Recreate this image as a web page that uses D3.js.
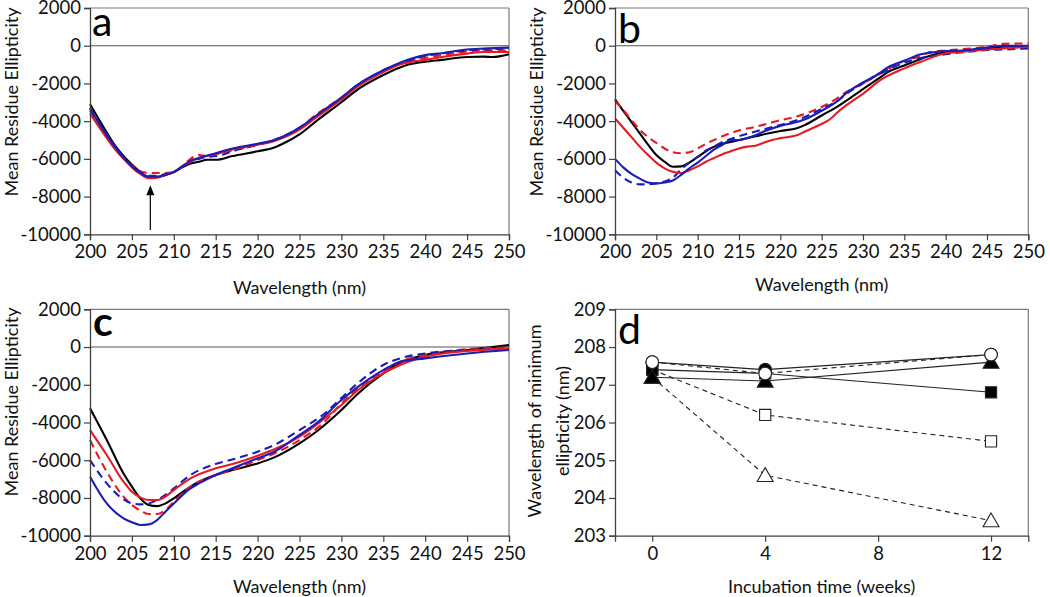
<!DOCTYPE html>
<html><head><meta charset="utf-8">
<script src="https://cdn.jsdelivr.net/npm/d3@7"></script>
<style>
html,body{margin:0;padding:0;background:#fff;}
svg{display:block;font-family:Lato,"Open Sans",sans-serif;}
</style></head>
<body>
<svg id="chart" width="1050" height="597"></svg>
<script>
// ---------- DATA ----------
const cdXTicks = [200,205,210,215,220,225,230,235,240,245,250];
const cdYTicks = [2000,0,-2000,-4000,-6000,-8000,-10000];
const dXTicks = [0,4,8,12];
const dYTicks = [203,204,205,206,207,208,209];

// panel a
const aBlack = [[200,-3100],[202,-4600],[203,-5300],[204,-5850],[205,-6300],[206,-6700],[207,-6950],[208,-6950],[209,-6850],[210,-6700],[211,-6450],[212,-6250],[213,-6150],[214,-6050],[215,-6050],[217,-5850],[220,-5600],[222,-5400],[223,-5200],[225,-4700],[227,-4000],[230,-3000],[232,-2300],[235,-1550],[237,-1150],[238,-1000],[240,-850],[242,-750],[245,-600],[247,-580],[248,-600],[250,-450]];
const aRed = [[200,-3600],[202,-4900],[203,-5500],[204,-6000],[205,-6450],[206,-6800],[207,-7030],[208,-7000],[209,-6850],[210,-6700],[211,-6400],[212,-6150],[213,-5950],[215,-5750],[217,-5500],[220,-5250],[222,-5050],[225,-4450],[227,-3800],[230,-2850],[232,-2150],[235,-1400],[237,-1000],[240,-750],[242,-600],[245,-420],[247,-330],[250,-330]];
const aRedDash = [[200,-3450],[202,-4800],[204,-5950],[205,-6350],[206,-6650],[207,-6750],[208,-6750],[209,-6750],[210,-6700],[211,-6400],[212,-6000],[213,-5800],[214,-5850],[215,-5750],[217,-5550],[220,-5250],[222,-5000],[225,-4350],[227,-3650],[230,-2750],[232,-2050],[235,-1350],[237,-950],[240,-650],[242,-500],[245,-300],[247,-250],[250,-250]];
const aBlue = [[200,-3350],[202,-4750],[204,-5950],[205,-6400],[206,-6750],[207,-6950],[208,-6950],[209,-6850],[210,-6700],[211,-6400],[212,-6100],[213,-5950],[215,-5700],[217,-5450],[220,-5200],[222,-5000],[225,-4350],[227,-3700],[230,-2750],[232,-2050],[235,-1300],[237,-900],[240,-500],[242,-400],[245,-200],[247,-150],[250,-100]];
const aBlueDash = [[200,-3300],[202,-4700],[204,-5900],[205,-6350],[206,-6700],[207,-6900],[208,-6900],[209,-6800],[210,-6700],[211,-6450],[212,-6150],[213,-6000],[214,-5900],[215,-5850],[216,-5750],[217,-5600],[220,-5250],[222,-5000],[225,-4350],[227,-3750],[230,-2800],[232,-2100],[235,-1300],[237,-950],[240,-550],[242,-400],[245,-250],[247,-200],[250,-150]];
const aArrow = [[207.2,-9770],[207.2,-7400]];

// panel b
const bBlack = [[200,-2850],[201,-3450],[202,-4050],[203,-4650],[204,-5250],[205,-5800],[206,-6150],[207,-6420],[208,-6400],[209,-6200],[210,-5900],[211,-5600],[212,-5350],[213,-5200],[214,-5100],[215,-5000],[217,-4800],[220,-4520],[222,-4380],[223,-4200],[225,-3700],[227,-3200],[230,-2300],[232,-1700],[233,-1400],[235,-1050],[237,-700],[238,-550],[240,-350],[242,-280],[245,-150],[247,-50],[250,-50]];
const bRed = [[200,-3850],[201,-4350],[202,-4850],[203,-5350],[204,-5800],[205,-6200],[206,-6500],[207,-6680],[208,-6750],[209,-6600],[210,-6400],[211,-6150],[212,-5950],[213,-5750],[214,-5600],[215,-5450],[216,-5350],[217,-5300],[218,-5150],[219,-5000],[220,-4900],[222,-4750],[223,-4550],[224,-4350],[225,-4150],[226,-3900],[227,-3500],[228,-3150],[229,-2850],[230,-2550],[232,-1850],[235,-1200],[237,-850],[240,-400],[242,-320],[245,-200],[247,-150],[250,-50]];
const bRedDash = [[200,-2950],[201,-3400],[202,-3950],[203,-4450],[204,-4850],[205,-5150],[206,-5450],[207,-5650],[208,-5700],[209,-5650],[210,-5450],[211,-5200],[212,-5000],[213,-4800],[215,-4500],[217,-4300],[220,-3950],[222,-3750],[225,-3250],[227,-2750],[228,-2450],[230,-2000],[232,-1500],[233,-1250],[235,-800],[237,-550],[238,-350],[240,-250],[243,-150],[245,-50],[247,100],[250,120]];
const bBlue = [[200,-6000],[201,-6450],[202,-6800],[203,-7050],[204,-7250],[205,-7300],[206,-7250],[207,-7150],[208,-6850],[209,-6500],[210,-6200],[211,-5850],[212,-5500],[213,-5250],[214,-5000],[215,-5000],[216,-4900],[217,-4750],[218,-4550],[220,-4250],[221,-4150],[222,-4050],[223,-3900],[225,-3450],[227,-2900],[228,-2500],[230,-1950],[232,-1450],[233,-1150],[235,-800],[237,-450],[238,-380],[240,-280],[242,-250],[245,-100],[247,0],[250,0]];
const bBlueDash = [[200,-6600],[201,-7000],[202,-7250],[203,-7350],[204,-7350],[205,-7300],[206,-7200],[207,-7000],[208,-6550],[209,-6200],[210,-5900],[211,-5550],[212,-5350],[213,-5100],[214,-4950],[215,-4800],[217,-4550],[220,-4200],[222,-3950],[225,-3350],[227,-2900],[228,-2550],[230,-2000],[232,-1500],[235,-900],[237,-650],[240,-450],[242,-350],[245,-230],[247,-200],[250,-150]];

// panel c
const cBlack = [[200,-3250],[202,-4930],[204,-6700],[205,-7400],[206,-8020],[207,-8370],[208,-8430],[209,-8290],[210,-8020],[212,-7400],[213,-7140],[215,-6780],[217,-6520],[220,-6170],[222,-5850],[225,-5110],[227,-4490],[230,-3340],[232,-2460],[235,-1400],[237,-830],[240,-420],[245,-160],[250,100]];
const cRed = [[200,-4400],[202,-5720],[204,-7140],[205,-7670],[206,-7970],[207,-8110],[208,-8110],[209,-7930],[210,-7580],[212,-6960],[215,-6430],[217,-6200],[220,-5760],[222,-5420],[225,-4750],[228,-3780],[230,-3070],[232,-2280],[235,-1400],[237,-950],[240,-510],[245,-210],[250,-70]];
const cRedDash = [[200,-4930],[202,-6610],[204,-7930],[205,-8370],[206,-8670],[207,-8850],[208,-8850],[209,-8640],[210,-8200],[212,-7400],[215,-6780],[217,-6520],[220,-5990],[222,-5640],[225,-4930],[228,-3960],[230,-2990],[232,-2190],[235,-1310],[237,-780],[240,-420],[245,-110],[250,-20]];
const cBlue = [[200,-6870],[202,-8290],[204,-9080],[205,-9290],[206,-9430],[207,-9400],[208,-9170],[209,-8730],[210,-8290],[212,-7490],[213,-7230],[215,-6780],[217,-6430],[220,-5900],[222,-5550],[225,-4660],[227,-4050],[230,-2810],[232,-2100],[235,-1220],[237,-780],[240,-600],[245,-340],[250,-160]];
const cBlueDash = [[200,-5990],[202,-7230],[204,-8080],[205,-8290],[206,-8340],[207,-8290],[208,-8110],[209,-7840],[210,-7490],[212,-6780],[215,-6200],[217,-5960],[220,-5550],[222,-5190],[225,-4400],[228,-3520],[230,-2700],[232,-1900],[235,-950],[237,-600],[240,-340],[245,-160],[250,-70]];

// panel d
const dWeeks = [0,4,12];
const dFilledCircle = [207.6,207.4,207.8];
const dOpenCircle = [207.6,207.3,207.8];
const dFilledSquare = [207.4,207.3,206.8];
const dOpenSquare = [207.4,206.2,205.5];
const dFilledTriangle = [207.2,207.1,207.6];
const dOpenTriangle = [207.2,204.6,203.4];

// ---------- DRAW ----------
const svg = d3.select("#chart");
const RED = "#e31b23", BLUE = "#1d1db5", BLACK = "#000";
const AX = "#404040";
const TICK_FS = 18.5;

function frame(g, x0, x1, y0, y1) {
  g.append("line").attr("x1", x0).attr("x2", x1).attr("y1", y1).attr("y2", y1).attr("stroke", "#7a7a7a").attr("stroke-width", 1.2);
  g.append("line").attr("x1", x1).attr("x2", x1).attr("y1", y1).attr("y2", y0).attr("stroke", "#7a7a7a").attr("stroke-width", 1.2);
}

function styleAxis(sel) {
  sel.select(".domain").attr("stroke", AX).attr("stroke-width", 1.3);
  sel.selectAll(".tick line").attr("stroke", AX).attr("stroke-width", 1.2);
  sel.selectAll(".tick text").attr("fill", "#111").attr("font-size", TICK_FS).attr("font-family", "Lato, 'Open Sans', sans-serif");
}

function cdPanel(opt) {
  const {x0, x1, y0, y1, series, letter, letterPos, letterWeight, xTitleY, yTitleX, yTitleY} = opt;
  const x = d3.scaleLinear().domain([200,250]).range([x0,x1]);
  const y = d3.scaleLinear().domain([-10000,2000]).range([y0,y1]);
  const g = svg.append("g");
  frame(g, x0, x1, y0, y1);
  g.append("line").attr("x1", x0).attr("x2", x1).attr("y1", y(0)).attr("y2", y(0)).attr("stroke", "#555").attr("stroke-width", 1.1);
  const line = d3.line().x(d => x(d[0])).y(d => y(d[1])).curve(d3.curveMonotoneX);
  series.forEach(s => {
    g.append("path").attr("d", line(s.data)).attr("fill", "none").attr("stroke", s.color)
      .attr("stroke-width", 2.1).attr("stroke-dasharray", s.dash ? "8,5" : null);
  });
  const ax = g.append("g").attr("transform", `translate(0,${y0})`).call(d3.axisBottom(x).tickValues(cdXTicks).tickSize(6).tickPadding(5));
  styleAxis(ax);
  const ay = g.append("g").attr("transform", `translate(${x0},0)`).call(d3.axisLeft(y).tickValues(cdYTicks).tickSize(6).tickPadding(3).tickFormat(d3.format("d")));
  styleAxis(ay);
  ay.selectAll(".tick text").text(d => d < 0 ? "-" + Math.abs(d) : d);
  g.append("text").attr("x", letterPos[0]).attr("y", letterPos[1]).attr("font-size", 41).attr("font-weight", letterWeight || 400).attr("fill", "#000").text(letter);
  g.append("text").attr("x", (x0 + x1) / 2).attr("y", xTitleY).attr("text-anchor", "middle").attr("font-size", 18).attr("fill", "#111").text("Wavelength (nm)");
  g.append("text").attr("transform", `translate(${yTitleX},${yTitleY}) rotate(-90)`).attr("text-anchor", "middle").attr("font-size", 18).attr("fill", "#111").text("Mean Residue Ellipticity");
  return {g, x, y};
}

const pa = cdPanel({x0: 90, x1: 509, y0: 234.3, y1: 8, letter: "a", letterPos: [92, 36], xTitleY: 294, yTitleX: 17.5, yTitleY: 102,
  series: [{data: aBlack, color: BLACK}, {data: aRedDash, color: RED, dash: true}, {data: aBlueDash, color: BLUE, dash: true}, {data: aRed, color: RED}, {data: aBlue, color: BLUE}]});
pa.g.append("line").attr("x1", pa.x(aArrow[0][0])).attr("x2", pa.x(aArrow[1][0])).attr("y1", pa.y(aArrow[0][1])).attr("y2", pa.y(aArrow[1][1]) + 8).attr("stroke", "#000").attr("stroke-width", 1.2);
{
  const ax = pa.x(aArrow[1][0]), ay = pa.y(aArrow[1][1]);
  pa.g.append("path").attr("d", `M${ax},${ay} L${ax - 4},${ay + 10} L${ax + 4},${ay + 10} Z`).attr("fill", "#000");
}

cdPanel({x0: 615, x1: 1028.3, y0: 234.3, y1: 8, letter: "b", letterPos: [618, 43], xTitleY: 291, yTitleX: 543, yTitleY: 102,
  series: [{data: bBlack, color: BLACK}, {data: bRedDash, color: RED, dash: true}, {data: bBlueDash, color: BLUE, dash: true}, {data: bRed, color: RED}, {data: bBlue, color: BLUE}]});

cdPanel({x0: 90, x1: 509, y0: 535.7, y1: 309.3, letter: "c", letterPos: [93, 336], letterWeight: 700, xTitleY: 593, yTitleX: 17.5, yTitleY: 402,
  series: [{data: cBlack, color: BLACK}, {data: cRedDash, color: RED, dash: true}, {data: cBlueDash, color: BLUE, dash: true}, {data: cRed, color: RED}, {data: cBlue, color: BLUE}]});

// panel d
{
  const x0 = 615, x1 = 1028.3, y0 = 535.7, y1 = 309.3;
  const x = d3.scaleLinear().domain([-1.32, 13.32]).range([x0, x1]);
  const y = d3.scaleLinear().domain([203, 209]).range([y0, y1]);
  const g = svg.append("g");
  frame(g, x0, x1, y0, y1);
  const series = [
    {vals: dOpenTriangle, shape: "triangle", filled: false, dash: true},
    {vals: dOpenSquare, shape: "square", filled: false, dash: true},
    {vals: dFilledSquare, shape: "square", filled: true, dash: false},
    {vals: dFilledTriangle, shape: "triangle", filled: true, dash: false},
    {vals: dFilledCircle, shape: "circle", filled: true, dash: false},
    {vals: dOpenCircle, shape: "circle", filled: false, dash: true}
  ];
  const line = d3.line().x(d => x(d[0])).y(d => y(d[1]));
  series.forEach(s => {
    const pts = dWeeks.map((w, i) => [w, s.vals[i]]);
    g.append("path").attr("d", line(pts)).attr("fill", "none").attr("stroke", "#222").attr("stroke-width", 1.1)
      .attr("stroke-dasharray", s.dash ? "5,4" : null);
  });
  const symType = {circle: d3.symbolCircle, square: d3.symbolSquare, triangle: d3.symbolTriangle};
  const symSize = {circle: 125, square: 125, triangle: 110};
  series.forEach(s => {
    const sym = d3.symbol().type(symType[s.shape]).size(symSize[s.shape]);
    dWeeks.forEach((w, i) => {
      g.append("path").attr("d", sym()).attr("transform", `translate(${x(w)},${y(s.vals[i]) + (s.shape === "triangle" ? 1.5 : 0)})`)
        .attr("fill", s.filled ? "#000" : "#fff").attr("stroke", "#222").attr("stroke-width", 1.1);
    });
  });
  const ax = g.append("g").attr("transform", `translate(0,${y0})`).call(d3.axisBottom(x).tickValues(dXTicks).tickSize(6).tickPadding(5));
  styleAxis(ax);
  const ay = g.append("g").attr("transform", `translate(${x0},0)`).call(d3.axisLeft(y).tickValues(dYTicks).tickSize(6).tickPadding(3).tickFormat(d3.format("d")));
  styleAxis(ay);
  g.append("text").attr("x", 618).attr("y", 344).attr("font-size", 41).attr("fill", "#000").text("d");
  g.append("text").attr("x", (x0 + x1) / 2).attr("y", 593).attr("text-anchor", "middle").attr("font-size", 18).attr("fill", "#111").text("Incubation time (weeks)");
  g.append("text").attr("transform", `translate(541,421) rotate(-90)`).attr("text-anchor", "middle").attr("font-size", 18).attr("fill", "#111").text("Wavelength of minimum");
  g.append("text").attr("transform", `translate(569,421) rotate(-90)`).attr("text-anchor", "middle").attr("font-size", 18).attr("fill", "#111").text("ellipticity (nm)");
}
</script>
</body></html>
